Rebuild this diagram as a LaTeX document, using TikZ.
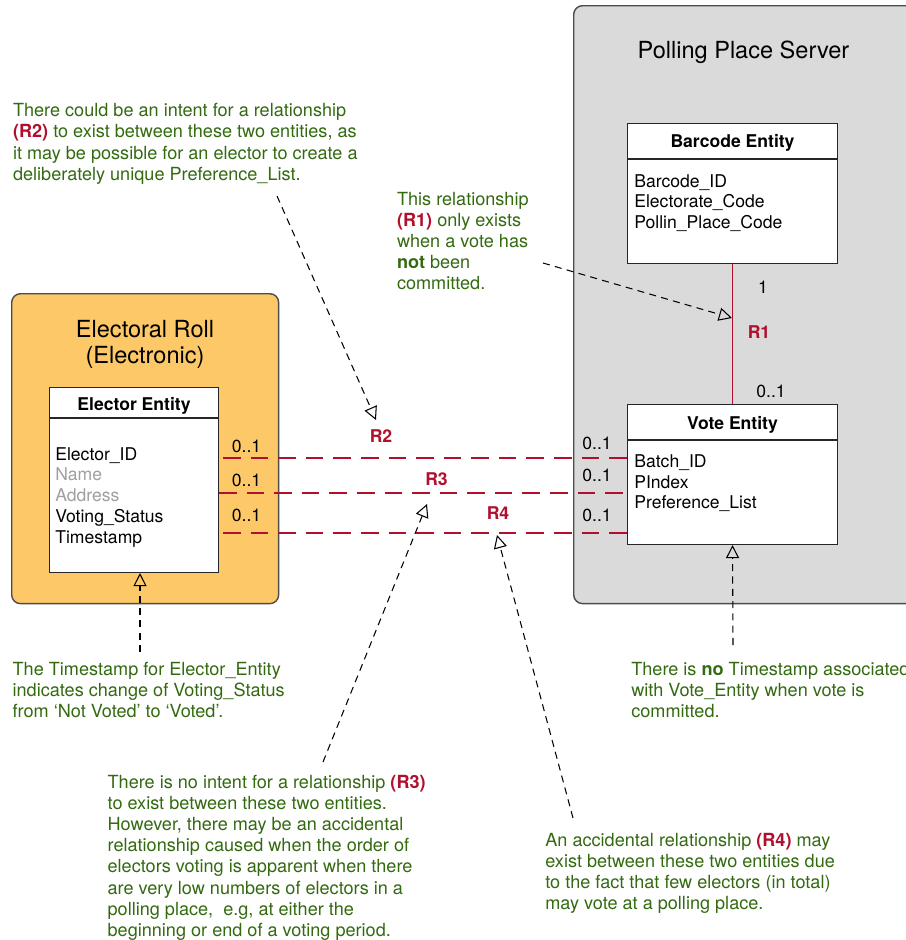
\documentclass[tikz,border=0pt]{standalone}
\usepackage{fontspec}
\setmainfont{TeX Gyre Heros}
\usetikzlibrary{arrows.meta}
\definecolor{notegreen}{HTML}{336A10}
\definecolor{relred}{HTML}{B0102E}
\definecolor{rollorange}{HTML}{FDC968}
\definecolor{servergray}{HTML}{DADADA}
\definecolor{attrgray}{HTML}{A0A0A0}

\begin{document}
\begin{tikzpicture}[x=0.02cm, y=-0.02cm,
  every node/.style={inner sep=0pt, font=\fontsize{10}{11.7}\selectfont},
  container/.style={draw=black!70, line width=0.8pt, rounded corners=5pt, anchor=north west},
  contitle/.style={font=\fontsize{13.4}{16}\selectfont, anchor=base},
  entity/.style={draw=black!85, fill=white, line width=0.6pt, anchor=north west},
  entline/.style={draw=black!85, line width=0.6pt},
  enttitle/.style={font=\fontsize{10}{11.7}\selectfont\bfseries, anchor=base},
  attr/.style={anchor=base west},
  mult/.style={anchor=base},
  rellabel/.style={font=\fontsize{10}{11.7}\selectfont\bfseries\color{relred}, anchor=base},
  relline/.style={draw=relred, line width=1pt},
  reldash/.style={draw=relred, line width=1.1pt, dash pattern=on 10pt off 5.7pt},
  note/.style={font=\fontsize{10.3}{12}\selectfont\color{notegreen}, align=left, anchor=north west},
  noteline/.style={draw=black, line width=0.6pt, dash pattern=on 4pt off 3pt,
    -{Triangle[open, length=7.5pt, width=7.5pt]}},
]
% 1 unit = 1 px of the 906 x 940 layout, y grows downwards
\useasboundingbox (0,0) rectangle (906,940);

% containers
\node[container, fill=servergray, minimum width=7.4cm, minimum height=11.96cm] (server) at (573,5) {};
\node[contitle] (servertitle) at (743.5,58) {Polling Place Server};
\node[container, fill=rollorange, minimum width=5.34cm, minimum height=6.2cm] (roll) at (11,293) {};
\node[contitle] (rolltitle) at (145,337.5) {Electoral Roll};
\node[contitle] (rolltitleb) at (145,363) {(Electronic)};

% entities
\node[entity, minimum width=4.2cm, minimum height=2.8cm] (barcode) at (627,123) {};
\draw[entline] (barcode.west |- 0,159) -- (barcode.east |- 0,159);
\node[enttitle] (barcodetitle) at (barcode.north |- 0,147.3) {Barcode Entity};
\foreach \attr [count=\i] in {Barcode\_ID, Electorate\_Code, Pollin\_Place\_Code}
  \node[attr] (barcodeattr\i) at (634,{166.3+\i*20.7}) {\attr};

\node[entity, minimum width=4.2cm, minimum height=2.8cm] (vote) at (627,404) {};
\draw[entline] (vote.west |- 0,440) -- (vote.east |- 0,440);
\node[enttitle] (votetitle) at (vote.north |- 0,429) {Vote Entity};
\foreach \attr [count=\i] in {Batch\_ID, PIndex, Preference\_List}
  \node[attr] (voteattr\i) at (634,{446.8+\i*20.7}) {\attr};

\node[entity, minimum width=3.38cm, minimum height=3.7cm] (elector) at (49,387) {};
\draw[entline] (elector.west |- 0,418) -- (elector.east |- 0,418);
\node[enttitle] (electortitle) at (elector.north |- 0,410) {Elector Entity};
\foreach \attr/\col [count=\i] in {Elector\_ID/black, Name/attrgray, Address/attrgray,
    Voting\_Status/black, Timestamp/black}
  \node[attr, text=\col] (electorattr\i) at (55,{439.2+\i*20.8}) {\attr};

% relationships
\draw[relline] (barcode.south) -- (vote.north);
\node[mult] (r1one) at (763,293) {1};
\node[rellabel] (r1label) at (759,338) {R1};
\node[mult] (r1many) at (771,397.3) {0..1};

\foreach \y/\dx in {458/4, 493/0, 533/4}
  \draw[reldash] ([xshift=\dx*0.02cm]elector.east |- 0,\y) -- (vote.west |- 0,\y);
\foreach \yl/\yr [count=\i] in {452.3/449.3, 486.7/481, 521/521.7} {
  \node[mult] (multl\i) at (246.5,\yl) {0..1};
  \node[mult] (multr\i) at (597,\yr) {0..1};
}
\node[rellabel] (r2label) at (381,442.3) {R2};
\node[rellabel] (r3label) at (436.5,485.7) {R3};
\node[rellabel] (r4label) at (498,519) {R4};

% notes
\node[note] (r2note) at (12.7,103.3) {There could be an intent for a relationship\\
  \textbf{\color{relred}(R2)} to exist between these two entities, as\\
  it may be possible for an elector to create a\\
  deliberately unique Preference\_List.};
\node[note] (r1note) at (396.7,191.7) {This relationship\\
  \textbf{\color{relred}(R1)} only exists\\
  when a vote has\\
  \textbf{not} been\\
  committed.};
\node[note] (stampnote) at (12.3,661.7) {The Timestamp for Elector\_Entity\\
  indicates change of Voting\_Status\\
  from `Not Voted' to `Voted'.};
\node[note] (votenote) at (631,661.7) {There is \textbf{no} Timestamp associated\\
  with Vote\_Entity when vote is\\
  committed.};
\node[note] (r3note) at (107.3,775) {There is no intent for a relationship \textbf{\color{relred}(R3)}\\
  to exist between these two entities.\\
  However, there may be an accidental\\
  relationship caused when the order of\\
  electors voting is apparent when there\\
  are very low numbers of electors in a\\
  polling place,\ \ e.g, at either the\\
  beginning or end of a voting period.};
\node[note] (r4note) at (545,832.7) {An accidental relationship \textbf{\color{relred}(R4)} may\\
  exist between these two entities due\\
  to the fact that few electors (in total)\\
  may vote at a polling place.};

% note pointers
\coordinate (r2tail) at (277,196);
\coordinate (r2tip) at (376,420);
\coordinate (r1tail) at (543,263);
\coordinate (r1tip) at (732,318);
\coordinate (r3tail) at (323,762);
\coordinate (r3tip) at (427,504);
\coordinate (r4tail) at (573,818);
\coordinate (r4tip) at (497,535);
\coordinate (stamptail) at (140,652);
\coordinate (votetail) at (733,645);
\draw[noteline] (r2tail) -- (r2tip);
\draw[noteline] (r1tail) -- (r1tip);
\draw[noteline] (r3tail) -- (r3tip);
\draw[noteline] (r4tail) -- (r4tip);
\draw[noteline] (stamptail) -- (stamptail |- elector.south);
\draw[noteline] (votetail) -- (vote.south);
\end{tikzpicture}
\end{document}
